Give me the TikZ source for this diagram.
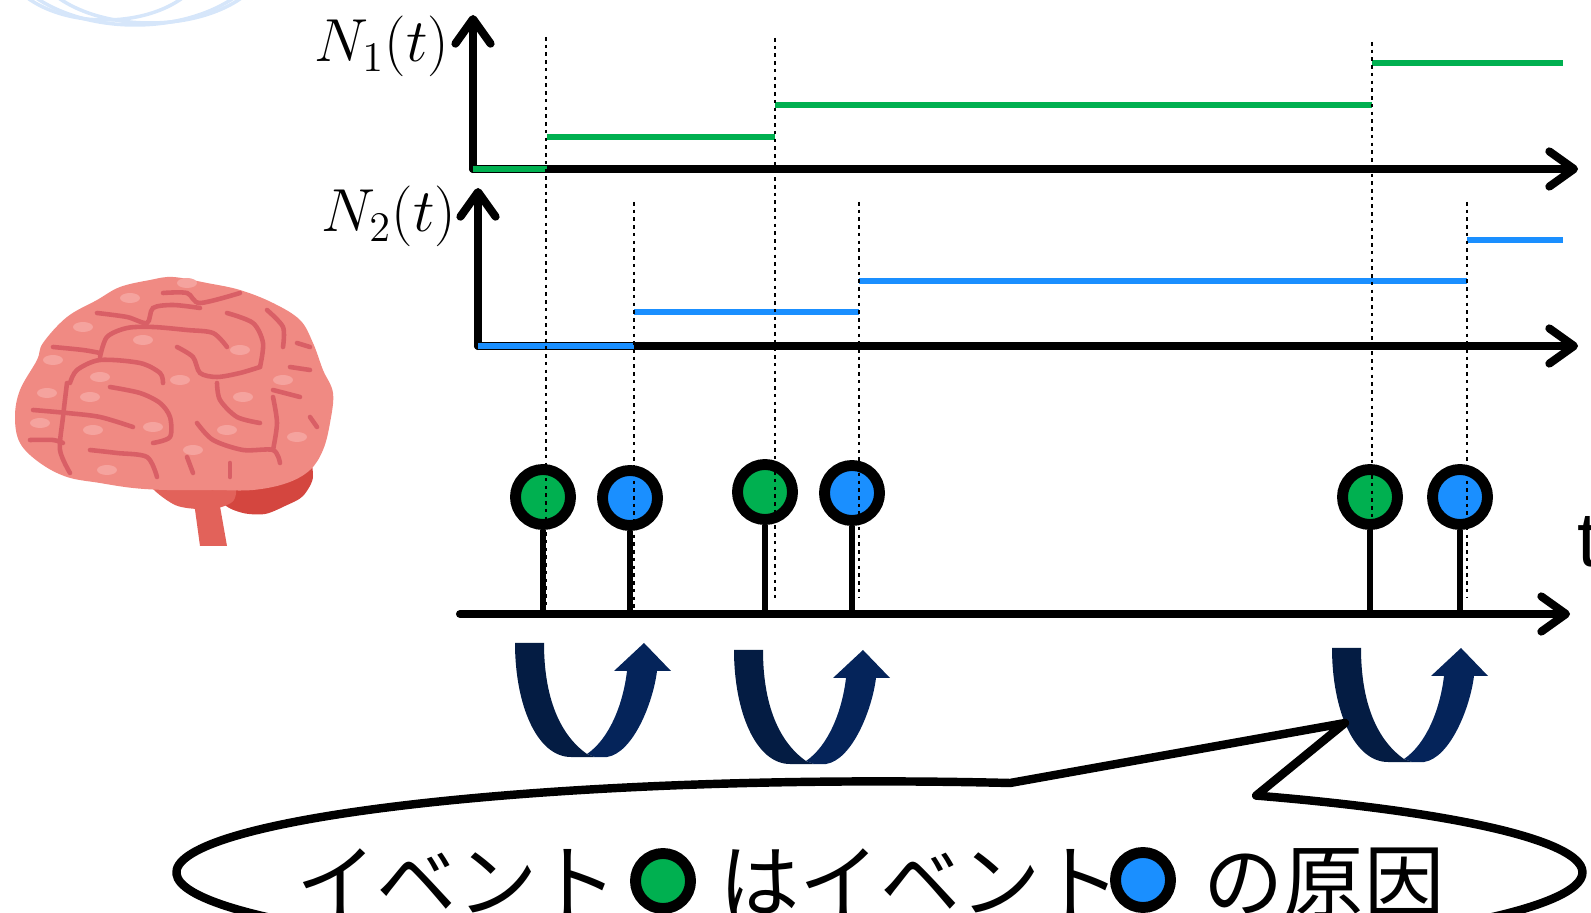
\documentclass[tikz,border=0pt]{standalone}
\usepackage{fontspec}
\newfontfamily\jpfont{Noto Sans CJK JP}
\newfontfamily\latinsans{Liberation Sans}
\usetikzlibrary{arrows.meta}

\definecolor{cntgreen}{HTML}{00B050}
\definecolor{cntblue}{HTML}{1A8FFF}
\definecolor{uturndark}{HTML}{041C43}
\definecolor{uturnlight}{HTML}{05245A}
\definecolor{brainpink}{HTML}{F08A83}
\definecolor{brainfold}{HTML}{D95F66}
\definecolor{brainlight}{HTML}{F5A39E}
\definecolor{braindark}{HTML}{D4463F}
\definecolor{brainstem}{HTML}{E2625A}
\definecolor{globeblue}{HTML}{D6E6FA}

\tikzset{
  axis/.style={line width=2.3pt,line cap=round,-{Straight Barb[length=7pt,width=10pt,round]}},
  nline/.style={line width=1.7pt},
  guide/.style={line width=0.8pt,dash pattern=on 1pt off 1.2pt},
  evdot/.style={circle,draw=black,line width=3.1pt,minimum size=0.55cm,inner sep=0pt},
  stem/.style={line width=1.9pt},
  fold/.style={brainfold,line width=1.3pt,line cap=round},
  callout/.style={line width=2.4pt,line join=round},
  globe/.style={globeblue,line width=1pt},
  captext/.style={anchor=base west,inner sep=0pt,font=\jpfont\fontsize{22.8}{27}\selectfont}
}

\begin{document}
\begin{tikzpicture}[x=0.01cm,y=-0.01cm]
  \clip (0,0) rectangle (1591,913);

  % faint globe rim in the corner
  \draw[globe] (135,-60) ellipse[x radius=135,y radius=85];
  \draw[globe] (150,-45) ellipse[x radius=118,y radius=68];
  \draw[globe] (105,-40) ellipse[x radius=100,y radius=60];

  % brain
  \fill[braindark] plot[smooth cycle] coordinates {(215,480) (300,455) (313,476) (303,496) (285,506) (265,514) (243,513) (224,504)};
  \fill[brainstem] plot[smooth cycle] coordinates {(150,480) (228,480) (234,500) (212,509) (175,505)};
  \fill[brainstem] (193,495) -- (218,495) -- (227,546) -- (200,546) -- cycle;
  \fill[brainpink] plot[smooth cycle,tension=0.6] coordinates {(15,417) (20,390) (37,360) (43,343) (67,317) (97,300) (120,287) (150,280) (173,277) (207,283) (240,290) (273,303) (300,320) (313,343) (323,370) (333,393) (330,423) (323,450) (310,470) (287,483) (253,490) (213,490) (167,490) (133,488) (100,483) (67,477) (40,463) (20,443)};
  \foreach \hx/\hy in {130/298,187/283,83/327,143/340,240/350,53/360,100/377,180/380,243/397,47/393,90/397,153/427,40/423,93/430,227/430,297/437,193/450,107/470,283/380}
    \fill[brainlight] (\hx,\hy) ellipse[x radius=10,y radius=5];
  \draw[fold] plot[smooth] coordinates {(163,293) (187,293) (200,303) (240,293)};
  \draw[fold] plot[smooth] coordinates {(97,313) (127,317) (147,323) (153,308) (173,305) (200,308)};
  \draw[fold] plot[smooth] coordinates {(53,347) (83,350) (100,353)};
  \draw[fold] plot[smooth] coordinates {(100,357) (107,337) (127,328) (153,327) (187,330) (213,333) (227,347)};
  \draw[fold] plot[smooth] coordinates {(70,383) (77,370) (100,360) (140,363) (160,373) (163,383)};
  \draw[fold] plot[smooth] coordinates {(177,347) (193,357) (200,373) (217,377) (240,373) (260,367)};
  \draw[fold] plot[smooth] coordinates {(227,313) (253,323) (263,343) (260,367)};
  \draw[fold] plot[smooth] coordinates {(267,310) (283,327) (283,347)};
  \draw[fold] (297,343) -- (310,347);
  \draw[fold] (290,367) -- (310,370);
  \draw[fold] (273,390) -- (300,397);
  \draw[fold] (310,417) -- (317,427);
  \draw[fold] plot[smooth] coordinates {(110,387) (140,393) (160,403) (170,417) (170,437) (153,443)};
  \draw[fold] plot[smooth] coordinates {(33,410) (67,413) (100,417) (133,427)};
  \draw[fold] plot[smooth] coordinates {(67,383) (63,417) (60,450) (70,473)};
  \draw[fold] plot[smooth] coordinates {(30,440) (53,440) (63,443)};
  \draw[fold] plot[smooth] coordinates {(90,450) (117,453) (147,457) (157,477)};
  \draw[fold] plot[smooth] coordinates {(217,383) (220,400) (237,417) (260,423)};
  \draw[fold] plot[smooth] coordinates {(197,423) (213,440) (243,450) (273,450) (280,463)};
  \draw[fold] (230,463) -- (230,477);
  \draw[fold] (187,457) -- (193,473);
  \draw[fold] plot[smooth] coordinates {(273,397) (277,423) (273,450)};

  % counting processes
  \node[anchor=base east,inner sep=0pt,font=\fontsize{17}{20}\selectfont] (lab1) at (450,62) {$N_1(t)$};
  \node[anchor=base east,inner sep=0pt,font=\fontsize{17}{20}\selectfont] (lab2) at (457,232) {$N_2(t)$};
  \coordinate (o1) at (473,169);
  \coordinate (o2) at (478,346);
  \draw[axis] (o1) -- (473,15);
  \draw[axis] (o1) -- (1578,169);
  \draw[axis] (o2) -- (478,188);
  \draw[axis] (o2) -- (1578,346);
  \draw[nline,cntgreen] (473,169) -- (547,169);
  \draw[nline,cntgreen] (547,137) -- (775,137);
  \draw[nline,cntgreen] (775,105) -- (1372,105);
  \draw[nline,cntgreen] (1372,63) -- (1563,63);
  \draw[nline,cntblue] (478,346) -- (634,346);
  \draw[nline,cntblue] (634,312) -- (859,312);
  \draw[nline,cntblue] (859,281) -- (1467,281);
  \draw[nline,cntblue] (1467,240) -- (1563,240);

  % event line
  \coordinate (t0) at (460,614);
  \draw[axis] (t0) -- (1570,614);
  \node[anchor=base west,inner sep=0pt,font=\latinsans\fontsize{22}{26}\selectfont] (tlab) at (1577,567) {t};
  \node[evdot,fill=cntgreen] (g1) at (543,497) {};
  \node[evdot,fill=cntblue]  (b1) at (630,498) {};
  \node[evdot,fill=cntgreen] (g2) at (765,492) {};
  \node[evdot,fill=cntblue]  (b2) at (852,493) {};
  \node[evdot,fill=cntgreen] (g3) at (1370,497) {};
  \node[evdot,fill=cntblue]  (b3) at (1460,497) {};
  \foreach \ev in {g1,b1,g2,b2,g3,b3}
    \draw[stem] (\ev.south) -- (\ev.south |- t0);

  % jump times
  \draw[guide] (546,37) -- (546,612);
  \draw[guide] (775,38) -- (775,598);
  \draw[guide] (634,202) -- (634,608);
  \draw[guide] (859,202) -- (859,598);
  \draw[guide] (1372,42) -- (1372,608);
  \draw[guide] (1467,202) -- (1467,597);

  % excitation arrows
  \foreach \ax/\ay in {515/643,734/650,1332/648} {
    \begin{scope}[shift={(\ax,\ay)}]
      \fill[uturndark] (0,0) .. controls (0,62) and (22,114) .. (56,114) -- (80,114) -- (72,111)
        .. controls (45,92) and (29,55) .. (29,0) -- cycle;
      \fill[uturnlight] (72,111) -- (80,114) -- (92,114) .. controls (118,110) and (138,60) .. (142,28)
        -- (156,28) -- (129,0) -- (99,28) -- (112,28) .. controls (108,62) and (94,96) .. (72,111) -- cycle;
    \end{scope}
  }

  % speech bubble
  \draw[callout] (1010,783) arc[start angle=-79.3,end angle=-417.6,x radius=703,y radius=91] -- (1345,723) -- cycle;
  \node[captext] (cap1) at (296,911) {イベント};
  \node[evdot,fill=cntgreen] (capg) at (663,881) {};
  \node[captext] (cap2) at (719,911) {はイベント};
  \node[evdot,fill=cntblue] (capb) at (1143,880) {};
  \node[captext] (cap3) at (1203,911) {の原因};
\end{tikzpicture}
\end{document}
